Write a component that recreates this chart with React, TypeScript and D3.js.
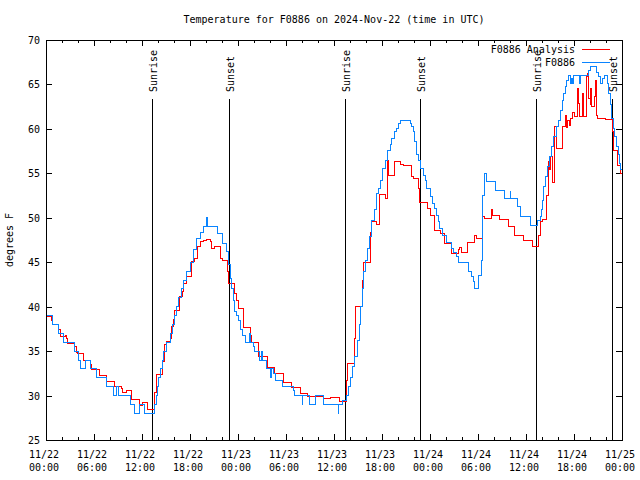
import React from "react";
import * as d3 from "d3";

const titleText = "Temperature for F0886 on 2024-Nov-22 (time in UTC)";
const yLabelText = "degrees F";
const yTicks = [25, 30, 35, 40, 45, 50, 55, 60, 65, 70];
const xTickHours = [0, 6, 12, 18, 24, 30, 36, 42, 48, 54, 60, 66, 72];
const xTickDates = ["11/22", "11/22", "11/22", "11/22", "11/23", "11/23", "11/23", "11/23", "11/24", "11/24", "11/24", "11/24", "11/25"];
const xTickTimes = ["00:00", "06:00", "12:00", "18:00", "00:00", "06:00", "12:00", "18:00", "00:00", "06:00", "12:00", "18:00", "00:00"];
const sunriseHours = [13.29, 37.33, 61.21];
const sunsetHours = [22.91, 46.79, 70.79];
const seriesNames = ["F0886 Analysis", "F0886"];
const seriesColors = ["#ff0000", "#0a84ff"];

// hours since 11/22 00:00 UTC, degrees F
const analysisSeries: [number, number][] = [[0,38.95],[0.7,38.4],[0.85,38.05],[1.55,37.45],[1.75,36.7],[2.4,36.8],[2.6,36.4],[2.7,35.9],[3.55,35.5],[3.75,34.9],[3.9,34.75],[4.7,34],[5.6,33.55],[5.7,32.95],[6.7,32.3],[7.5,32.06],[7.6,31.6],[8.55,31],[9.45,30.8],[9.6,30.4],[10.0,30.6],[10.7,29.6],[11.7,28.9],[12.0,29.2],[12.7,28.45],[13.6,30.4],[13.75,32.4],[14.6,33.8],[14.75,35.7],[15.0,36.06],[15.5,36.4],[15.7,37.75],[15.9,38.6],[16.1,39.6],[16.7,41.1],[17.0,41.7],[17.2,42.6],[17.6,43.4],[18.2,45.1],[18.6,45.4],[18.9,46.75],[19.25,47.3],[19.7,47.5],[20.1,47.6],[20.5,47.3],[20.7,46.6],[21.0,46.75],[21.8,45.4],[22.0,45.25],[22.7,44],[22.8,42.6],[23.6,41.5],[23.8,40.75],[24.0,39.8],[24.7,37.7],[25.6,36.8],[25.7,36],[26.6,34.4],[27.7,33.2],[28.6,32.5],[29.7,31.45],[30.7,30.9],[31.75,30.2],[32.7,29.9],[34.7,29.7],[35.6,29.8],[36.7,29.3],[37.5,31.75],[37.7,33.6],[38.6,36.4],[38.7,40],[39.5,40.9],[39.6,43],[39.7,45],[40.6,48.4],[40.7,49.6],[41.3,49.3],[41.7,52.6],[42.4,52.2],[42.7,56.5],[42.8,54.8],[43.6,56.3],[44.25,56.05],[44.7,55.9],[45.7,54.6],[45.9,54.4],[46.5,53.3],[46.7,51.7],[47.7,51.06],[48.0,50.3],[48.6,48.6],[49.25,48.2],[49.8,47.1],[50.7,46.0],[51.5,46.4],[51.7,46.7],[51.96,46.1],[52.7,47.2],[53.6,48.06],[53.8,47.7],[54.5,47.5],[54.6,50.1],[54.75,49.9],[55.7,50.95],[55.8,50.3],[56.7,49.8],[57.8,49.07],[58.5,48.06],[59.7,47.5],[60.75,46.75],[61.6,48.06],[61.75,49.6],[62.0,49.8],[62.6,52.5],[62.75,56.3],[62.9,55.4],[63.0,56.9],[63.3,54],[63.5,57.1],[63.6,60.25],[63.75,57.8],[64.6,60.25],[64.9,61.56],[65.0,60.2],[65.2,61],[65.4,60.4],[65.6,61.2],[65.8,61.9],[66.1,61.4],[66.4,64.56],[66.5,62.9],[66.7,61.4],[67.1,64],[67.2,61.4],[67.5,61.56],[67.6,65.9],[67.7,66.25],[67.8,63.4],[68.0,62.7],[68.1,64.5],[68.2,62.5],[68.5,63.6],[68.7,65.5],[68.8,61.56],[68.9,61.2],[69.9,61.06],[70.75,59.7],[70.9,57.6],[71.4,55.9],[71.75,55],[72,55]];

const stationSeries: [number, number][] = [[0,39.6],[0.1,39],[0.85,38],[1.55,37],[2.2,36],[3.6,35],[4.0,34],[4.3,33],[4.9,34],[5.6,33],[6.25,32],[7.6,31],[8.4,30],[8.8,31],[9.1,30],[10.6,29],[11.0,28],[11.7,29],[12.3,28],[13.6,29],[13.75,30],[13.9,31],[14.1,32],[14.3,33],[14.5,34],[14.7,35],[15.0,36],[15.5,37],[15.8,38],[16.0,39],[16.3,40],[16.5,41],[16.9,42],[17.2,43],[17.6,44],[18.0,45],[18.4,46.4],[18.8,47.7],[19.25,48.4],[19.7,49],[20.1,50],[20.2,49],[21.4,48.2],[22.1,47.1],[22.5,46.2],[22.8,44.7],[23.0,43.2],[23.2,42],[23.4,40.75],[23.6,39.5],[23.8,39],[24.0,38.5],[24.25,37.4],[24.5,36.8],[24.9,36],[25.4,37],[25.6,36],[25.9,35.5],[26.1,35],[26.7,34],[26.9,35],[27.0,34],[27.6,33],[28.0,32],[28.2,33],[28.4,32.5],[28.7,31.75],[29.5,31],[30.9,30.6],[31.0,30],[32.0,29],[32.1,30],[32.9,29],[33.7,30],[34.7,29],[36.5,28],[36.6,29],[37.0,29.5],[37.6,30],[37.8,31],[38.1,32],[38.3,33.25],[38.6,34.4],[38.9,36.25],[39.2,38],[39.3,40],[39.5,42],[39.7,44],[39.9,45.25],[40.2,46.6],[40.4,47.9],[40.7,49.75],[41.0,50.9],[41.25,52.75],[41.5,53.3],[41.75,54.25],[42.05,55.6],[42.4,56.5],[42.7,57.6],[43.0,58.2],[43.2,58.9],[43.5,59.7],[43.75,60.1],[44.05,60.6],[44.3,61],[45.5,60.6],[45.7,60.25],[45.9,59.7],[46.1,58.6],[46.3,57.1],[46.5,56.5],[46.75,55.6],[47.2,54.8],[47.4,54.25],[47.6,53.3],[48.0,52.4],[48.3,51.6],[48.6,51],[48.8,50.3],[49.05,49.6],[49.2,48.8],[49.5,48],[50.0,47.2],[50.7,46.6],[50.9,46.1],[51.3,45.6],[51.5,45],[52.8,44],[53.2,43.4],[53.4,42.8],[53.6,42],[54.05,43.5],[54.4,45.2],[54.5,48.8],[54.6,52.5],[54.75,54.3],[54.85,55],[55.0,54.1],[56.2,53.1],[57.3,52.2],[58.0,53],[58.1,52.2],[58.9,51.3],[59.3,50.1],[60.6,49.1],[61.4,49.75],[61.75,50.1],[61.9,50.9],[62.0,52],[62.2,53.5],[62.4,54.6],[62.7,55.75],[62.9,56.9],[63.2,58],[63.4,59.1],[63.75,60.25],[64.0,61],[64.25,62.1],[64.5,63.25],[64.7,64],[64.9,64.75],[65.1,65.5],[65.3,66.06],[65.5,65.1],[65.7,65.7],[65.8,65.1],[65.9,66.06],[66.7,65.1],[66.8,66.06],[67.8,66.6],[68.0,67],[68.8,66.4],[69.0,65.9],[69.25,65.1],[69.6,65.7],[69.75,66.06],[70.2,65.1],[70.3,64],[70.5,62.7],[70.7,61.2],[70.9,60.06],[71.1,59.1],[71.3,58],[71.5,57.1],[71.7,56.1],[71.8,55.4],[72,55.4]];

const FONT = "'DejaVu Sans Mono', monospace";

export default function App() {
  const W = 640, H = 480;
  const L = 46, R = 622, T = 40, B = 440;
  const x = d3.scaleLinear().domain([0, 72]).range([L, R]);
  const y = d3.scaleLinear().domain([25, 70]).range([B, T]);
  const line = d3.line<[number, number]>()
    .x(d => x(d[0]))
    .y(d => y(d[1]))
    .curve(d3.curveStepAfter);
  const minorHours = d3.range(0, 73, 2).filter(h => h % 6 !== 0);
  const px = (v: number) => Math.round(v) + 0.5;

  const sunMarks = [
    ...sunriseHours.map(h => ({ h, label: "Sunrise" })),
    ...sunsetHours.map(h => ({ h, label: "Sunset" })),
  ];

  return (
    <svg width={W} height={H} style={{ position: "absolute", left: 0, top: 0, background: "#fff" }}
      fontFamily={FONT} fontSize={10}>
      <rect x={0} y={0} width={W} height={H} fill="#fff" />
      <text x={(L + R) / 2} y={23} textAnchor="middle">{titleText}</text>
      <text transform={`translate(13,${(T + B) / 2}) rotate(-90)`} textAnchor="middle">{yLabelText}</text>

      {yTicks.map(v => (
        <g key={"y" + v}>
          <line x1={L} x2={L + 6} y1={px(y(v))} y2={px(y(v))} stroke="#000" />
          <line x1={R - 6} x2={R} y1={px(y(v))} y2={px(y(v))} stroke="#000" />
          <text x={40} y={y(v) + 4} textAnchor="end">{v}</text>
        </g>
      ))}
      {xTickHours.map((h, i) => (
        <g key={"x" + h}>
          <line x1={px(x(h))} x2={px(x(h))} y1={B} y2={B - 6} stroke="#000" />
          <line x1={px(x(h))} x2={px(x(h))} y1={T} y2={T + 6} stroke="#000" />
          <text x={x(h) - 2} y={B + 18} textAnchor="middle">{xTickDates[i]}</text>
          <text x={x(h) - 2} y={B + 31} textAnchor="middle">{xTickTimes[i]}</text>
        </g>
      ))}
      {minorHours.map(h => (
        <g key={"m" + h}>
          <line x1={px(x(h))} x2={px(x(h))} y1={B} y2={B - 3} stroke="#000" />
          <line x1={px(x(h))} x2={px(x(h))} y1={T} y2={T + 3} stroke="#000" />
        </g>
      ))}

      {sunMarks.map((s, i) => (
        <g key={"s" + i}>
          <line x1={px(x(s.h))} x2={px(x(s.h))} y1={99} y2={B} stroke="#000" />
          <text transform={`translate(${x(s.h) + 5},92) rotate(-90)`} textAnchor="start">{s.label}</text>
        </g>
      ))}

      <path d={line(analysisSeries) || ""} fill="none" stroke={seriesColors[0]} strokeWidth={1} shapeRendering="crispEdges" />
      <path d={line(stationSeries) || ""} fill="none" stroke={seriesColors[1]} strokeWidth={1} shapeRendering="crispEdges" />

      {seriesNames.map((n, i) => (
        <g key={"lg" + i}>
          <text x={575} y={53 + i * 13} textAnchor="end">{n}</text>
          <line x1={582} x2={610} y1={49.5 + i * 13} y2={49.5 + i * 13} stroke={seriesColors[i]} />
        </g>
      ))}

      <rect x={L + 0.5} y={T + 0.5} width={R - L} height={B - T} fill="none" stroke="#000" />
    </svg>
  );
}
